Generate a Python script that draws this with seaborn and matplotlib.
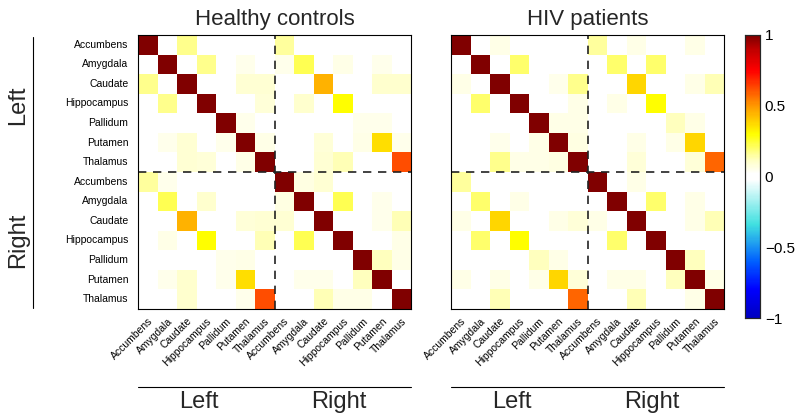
import numpy as np
import pandas as pd
import seaborn as sns
import matplotlib.pyplot as plt
from matplotlib.colors import LinearSegmentedColormap
from matplotlib.lines import Line2D
import matplotlib.transforms as mtransforms

# structures of each hemisphere, left block first then right block
regions = ["Accumbens", "Amygdala", "Caudate", "Hippocampus", "Pallidum", "Putamen", "Thalamus"]
hemispheres = ["Left", "Right"]
titles = ["Healthy controls", "HIV patients"]

# off-diagonal correlations (upper triangle: row, col, r)
# everything not listed is 0, the diagonal is 1
hc_pairs = [(0, 2, 0.17), (0, 7, 0.15), (1, 3, 0.17), (1, 5, 0.05), (1, 7, 0.05),
            (1, 8, 0.22), (1, 10, 0.06), (1, 12, 0.05), (2, 5, 0.09), (2, 6, 0.09),
            (2, 9, 0.45), (2, 12, 0.1), (2, 13, 0.1), (3, 6, 0.08), (3, 8, 0.1),
            (3, 10, 0.3), (4, 5, 0.05), (4, 11, 0.05), (4, 12, 0.05), (5, 6, 0.06),
            (5, 9, 0.08), (5, 11, 0.06), (5, 12, 0.36), (5, 13, 0.05), (6, 9, 0.09),
            (6, 10, 0.13), (6, 13, 0.62), (7, 8, 0.07), (7, 9, 0.09), (8, 10, 0.22),
            (8, 12, 0.05), (9, 12, 0.05), (9, 13, 0.13), (10, 13, 0.06), (11, 12, 0.12),
            (11, 13, 0.06)]

hiv_pairs = [(0, 2, 0.06), (0, 7, 0.15), (0, 9, 0.06), (0, 12, 0.06), (1, 3, 0.2),
             (1, 8, 0.2), (1, 10, 0.2), (2, 5, 0.05), (2, 6, 0.17), (2, 9, 0.38),
             (2, 12, 0.06), (2, 13, 0.13), (3, 6, 0.06), (3, 8, 0.06), (3, 10, 0.3),
             (4, 5, 0.06), (4, 6, 0.06), (4, 11, 0.12), (4, 12, 0.06), (5, 6, 0.07),
             (5, 9, 0.06), (5, 11, 0.06), (5, 12, 0.38), (6, 9, 0.08), (6, 12, 0.08),
             (6, 13, 0.58), (7, 9, 0.06), (8, 10, 0.2), (8, 12, 0.06), (9, 12, 0.06),
             (9, 13, 0.13), (11, 12, 0.12), (12, 13, 0.06)]

cbar_ticks = [-1, -0.5, 0, 0.5, 1]
cbar_labels = ["\u22121", "\u22120.5", "0", "0.5", "1"]


# builds the full symmetric matrix from the listed pairs
def build_matrix(pairs):
	n = 2 * len(regions)
	m = np.eye(n)
	for i, j, r in pairs:
		m[i, j] = r
		m[j, i] = r
	labels = regions + regions
	return pd.DataFrame(m, index=labels, columns=labels)


def run():
	sns.set_theme(style="white")
	plt.rcParams['font.family'] = ['Liberation Sans', 'DejaVu Sans']

	# blue - cyan - white - yellow - red, white around zero
	cmap = LinearSegmentedColormap.from_list("bwr_jet", [
		(0.0, "#0000c0"), (0.1, "#0000ff"), (0.2, "#0060ff"), (0.33, "#40e0e0"),
		(0.45, "#d0f8f8"), (0.49, "#ffffff"), (0.51, "#ffffff"), (0.56, "#ffffc0"),
		(0.65, "#ffff00"), (0.75, "#ff9900"), (0.875, "#ff0000"), (0.95, "#c00000"),
		(1.0, "#800000")], N=256)

	fig = plt.figure(figsize=(7.98, 4.16), dpi=100)
	W, H = 798.0, 416.0
	ax_boxes = [(138, 35, 273, 274), (451, 35, 273, 274)]
	cax = fig.add_axes([745 / W, 1 - 318 / H, 15 / W, 283 / H])

	n = 2 * len(regions)
	for k, (pairs, title) in enumerate(zip([hc_pairs, hiv_pairs], titles)):
		x0, y0, w, h = ax_boxes[k]
		ax = fig.add_axes([x0 / W, 1 - (y0 + h) / H, w / W, h / H])
		data = build_matrix(pairs)
		sns.heatmap(data, ax=ax, cmap=cmap, vmin=-1, vmax=1,
		            cbar=(k == 1), cbar_ax=cax if k == 1 else None,
		            xticklabels=True, yticklabels=(k == 0))

		# hemisphere separators
		ax.axhline(len(regions), color="#222222", ls=(0, (5, 4)), lw=1.2)
		ax.axvline(len(regions), color="#222222", ls=(0, (5, 4)), lw=1.2)

		for s in ax.spines.values():
			s.set_visible(True)
			s.set_linewidth(0.8)
			s.set_color("black")

		ax.tick_params(axis="both", which="major", length=0, labelsize=7.5, colors="black")
		ax.tick_params(axis="y", which="major", pad=7)
		ax.tick_params(axis="x", which="major", pad=5)
		plt.setp(ax.get_xticklabels(), rotation=45, ha="right", rotation_mode="anchor")
		plt.setp(ax.get_yticklabels(), rotation=0)

		ax.set_xticks(np.arange(1, n, 2) + 0.5, minor=True)
		ax.set_yticks(np.arange(1, n, 2) + 0.5, minor=True)
		ax.tick_params(which="minor", direction="in", length=3, width=0.6,
		               top=True, bottom=True, left=True, right=True, color="black")

		ax.set_title(title, fontsize=16, pad=7)

		# hemisphere labels below the x axis
		yline = 1 - 387 / H
		fig.add_artist(Line2D([x0 / W, (x0 + w) / W], [yline, yline],
		                      transform=fig.transFigure, color="black", lw=0.8))
		tr = mtransforms.blended_transform_factory(ax.transData, fig.transFigure)
		for xc, name in zip([3.1, 10.3], hemispheres):
			ax.text(xc, 1 - 402 / H, name, transform=tr, ha="center", va="center", fontsize=17)

		if k == 0:
			fig.add_artist(Line2D([33 / W, 33 / W], [1 - 37 / H, 1 - 308 / H],
			                      transform=fig.transFigure, color="black", lw=0.8))
			tr2 = mtransforms.blended_transform_factory(fig.transFigure, ax.transData)
			for yc, name in zip([3.6, 10.5], hemispheres):
				ax.text(18 / W, yc, name, transform=tr2, ha="center", va="center",
				        rotation=90, fontsize=17)

	cax.yaxis.set_ticks(cbar_ticks)
	cax.yaxis.set_ticklabels(cbar_labels)
	cax.tick_params(labelsize=11, length=3, direction="in", width=0.6, right=True, left=True, colors="black")
	for s in cax.spines.values():
		s.set_visible(True)
		s.set_linewidth(0.8)

	fig.savefig("out.png", dpi=100)


if __name__ == '__main__':
	run()
